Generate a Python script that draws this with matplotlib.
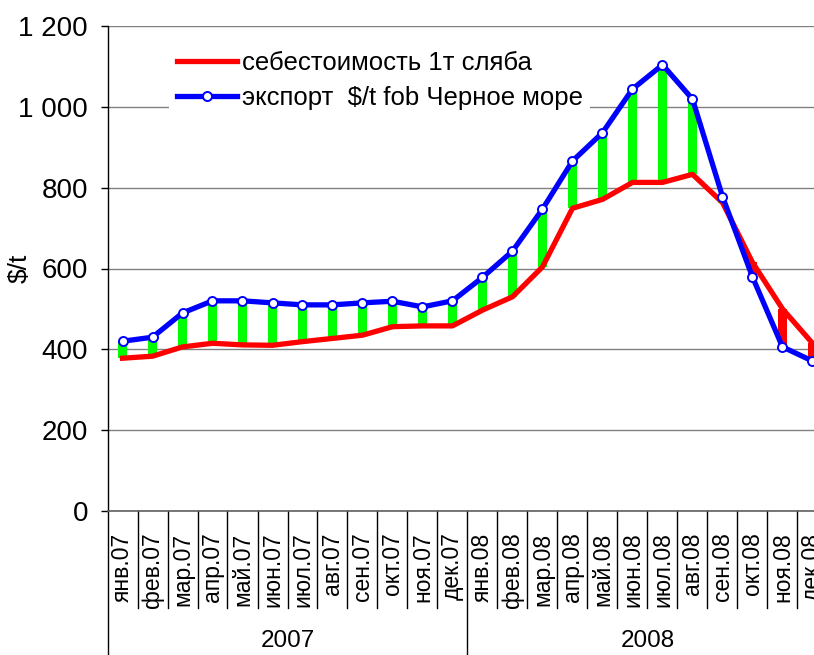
import numpy as np
import matplotlib
matplotlib.use("Agg")
import matplotlib.pyplot as plt
from matplotlib.transforms import blended_transform_factory

plt.rcParams["font.family"] = ["Liberation Sans", "DejaVu Sans"]

# =========================
# Data
# =========================

months = ["янв.07", "фев.07", "мар.07", "апр.07", "май.07", "июн.07",
          "июл.07", "авг.07", "сен.07", "окт.07", "ноя.07", "дек.07",
          "янв.08", "фев.08", "мар.08", "апр.08", "май.08", "июн.08",
          "июл.08", "авг.08", "сен.08", "окт.08", "ноя.08", "дек.08"]
years = ["2007", "2008"]
months_per_year = 12

cost = [378, 383, 406, 415, 411, 410, 419, 427, 435, 456, 458, 458,
        497, 530, 604, 749, 771, 813, 813, 833, 763, 615, 500, 415]
export = [420, 430, 490, 520, 520, 515, 510, 510, 515, 519, 505, 520,
          578, 643, 747, 866, 936, 1044, 1104, 1019, 778, 579, 406, 371]

y_ticks = [0, 200, 400, 600, 800, 1000, 1200]
y_tick_labels = ["0", "200", "400", "600", "800", "1 000", "1 200"]

label_cost = "себестоимость 1т сляба"
label_export = "экспорт  $/t fob Черное море"

# =========================
# Figure
# =========================

W, H = 814, 655
fig = plt.figure(figsize=(W / 100, H / 100), dpi=100)

# plot area: left 107.5 px, right beyond the picture (cropped), top 26 px, bottom 511 px
left_px, right_px, top_px, bottom_px = 107.5, 827.5, 26, 511
ax = fig.add_axes([left_px / W, (H - bottom_px) / H,
                   (right_px - left_px) / W, (bottom_px - top_px) / H])

x = np.arange(len(months))
cost_arr = np.array(cost)
export_arr = np.array(export)

lo = np.minimum(cost_arr, export_arr)
hi = np.maximum(cost_arr, export_arr)
bar_colors = ["#00FF00" if e >= c else "#FF0000" for c, e in zip(cost, export)]

ax.bar(x, hi - lo, bottom=lo, width=0.28, color=bar_colors, zorder=2)

ax.plot(x, cost, color="#FF0000", linewidth=3.8, label=label_cost, zorder=3)
ax.plot(x, export, color="#0000FF", linewidth=3.8, marker="o", markersize=6.5,
        markerfacecolor="white", markeredgecolor="#0000FF", markeredgewidth=1.4,
        label=label_export, zorder=4)

ax.set_xlim(-0.5, len(months) - 0.5)
ax.set_ylim(0, 1200)

ax.set_yticks(y_ticks)
ax.set_yticklabels(y_tick_labels, fontsize=20)
ax.tick_params(axis="y", direction="out", length=5, width=1, pad=9, colors="black")

ax.set_xticks(x)
ax.set_xticklabels(months, rotation=90, fontsize=16.5)
ax.tick_params(axis="x", length=0, pad=15.5)

ax.yaxis.grid(True, color="#808080", linewidth=1)
ax.set_axisbelow(True)

for side in ["top", "right"]:
    ax.spines[side].set_visible(False)
ax.spines["left"].set_color("black")
ax.spines["left"].set_linewidth(1)
ax.spines["bottom"].set_color("#606060")
ax.spines["bottom"].set_linewidth(1.2)

fig.text(20 / W, (H - 268) / H, "$/t", rotation=90, ha="center", va="center",
         fontsize=19)

# =========================
# Category separators and year groups
# =========================

trans = blended_transform_factory(ax.transData, fig.transFigure)
y_axis_fig = (H - bottom_px) / H
y_sep_end = (H - 608) / H

for b in np.arange(len(months) + 1) - 0.5:
    is_year_edge = (b + 0.5) % months_per_year == 0
    y_end = -0.01 if is_year_edge else y_sep_end
    ax.plot([b, b], [y_axis_fig, y_end], color="black", linewidth=1,
            transform=trans, clip_on=False)

for i, year in enumerate(years):
    center = i * months_per_year + (months_per_year - 1) / 2
    ax.text(center, (H - 641) / H, year, transform=trans, ha="center",
            va="center", fontsize=17.5)

# =========================
# Legend
# =========================

leg = ax.legend(loc="upper left", bbox_to_anchor=(169 / W, (H - 43) / H),
                bbox_transform=fig.transFigure, fontsize=18.5, frameon=True,
                handlelength=2.33, handletextpad=0.2, labelspacing=0.45,
                borderpad=0.3, borderaxespad=0)
leg.get_frame().set_facecolor("white")
leg.get_frame().set_edgecolor("none")
leg.get_frame().set_alpha(1)
leg.get_frame().set_boxstyle("square", pad=0)

fig.savefig("out.png", dpi=100)
